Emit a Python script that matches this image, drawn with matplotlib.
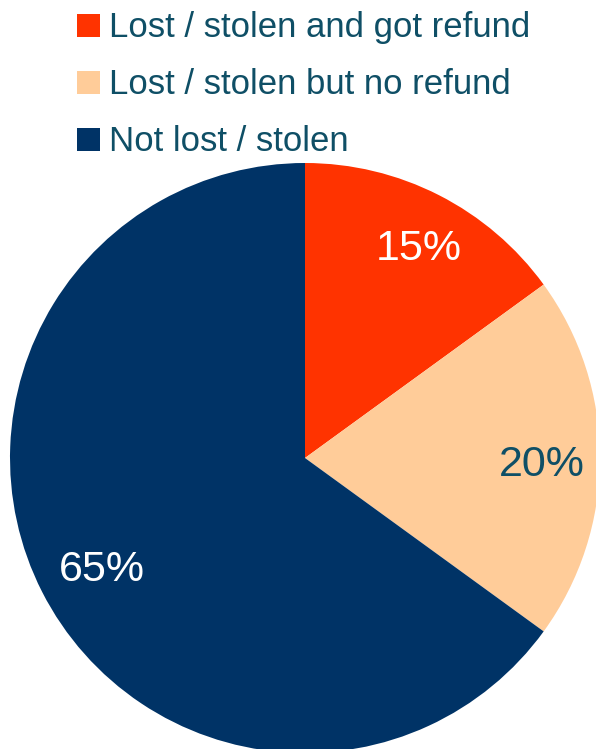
import matplotlib
matplotlib.use("Agg")
import matplotlib.pyplot as plt
from matplotlib.patches import Rectangle
from matplotlib.transforms import offset_copy

categories = ["Lost / stolen and got refund", "Lost / stolen but no refund", "Not lost / stolen"]
shares = [15, 20, 65]
colors = ["#FF3300", "#FFCC99", "#003366"]
label_colors = ["white", "#0F4F66", "white"]
text_color = "#0F4F66"

plt.rcParams["font.family"] = ["Liberation Sans", "DejaVu Sans"]

W, H = 596, 749
fig = plt.figure(figsize=(W / 100, H / 100), dpi=100)

# pie axes: centre (305, 458) px, radius 295 px
cx, cy, r = 305, 458, 295
ax = fig.add_axes([(cx - r) / W, (H - cy - r) / H, 2 * r / W, 2 * r / H])
wedges, _, autotexts = ax.pie(
    shares, colors=colors, startangle=90, counterclock=False,
    autopct="%d%%", pctdistance=0.8, radius=1.0,
    wedgeprops=dict(linewidth=0), textprops=dict(fontsize=31),
)
# fine placement of the percentage labels (pixel nudges)
nudges = [(7, -1), (1, -7), (7, -5)]
for t, c, (dx, dy) in zip(autotexts, label_colors, nudges):
    t.set_color(c)
    t.set_transform(offset_copy(ax.transData, fig=fig, x=dx, y=dy, units="dots"))
ax.set_xlim(-1, 1)
ax.set_ylim(-1, 1)
ax.set_aspect("equal")
ax.axis("off")
for w in wedges:
    w.set_clip_on(False)

# legend rows
row_y = [25.5, 82.5, 139.5]
sq = 23
for name, col, y in zip(categories, colors, row_y):
    fig.patches.append(Rectangle(((77) / W, 1 - (y + sq / 2) / H), sq / W, sq / H,
                                 transform=fig.transFigure, facecolor=col,
                                 edgecolor="none"))
    fig.text(109 / W, 1 - (y + 11.5) / H, name, fontsize=25, color=text_color,
             ha="left", va="baseline")

fig.savefig("out.png", dpi=100)
